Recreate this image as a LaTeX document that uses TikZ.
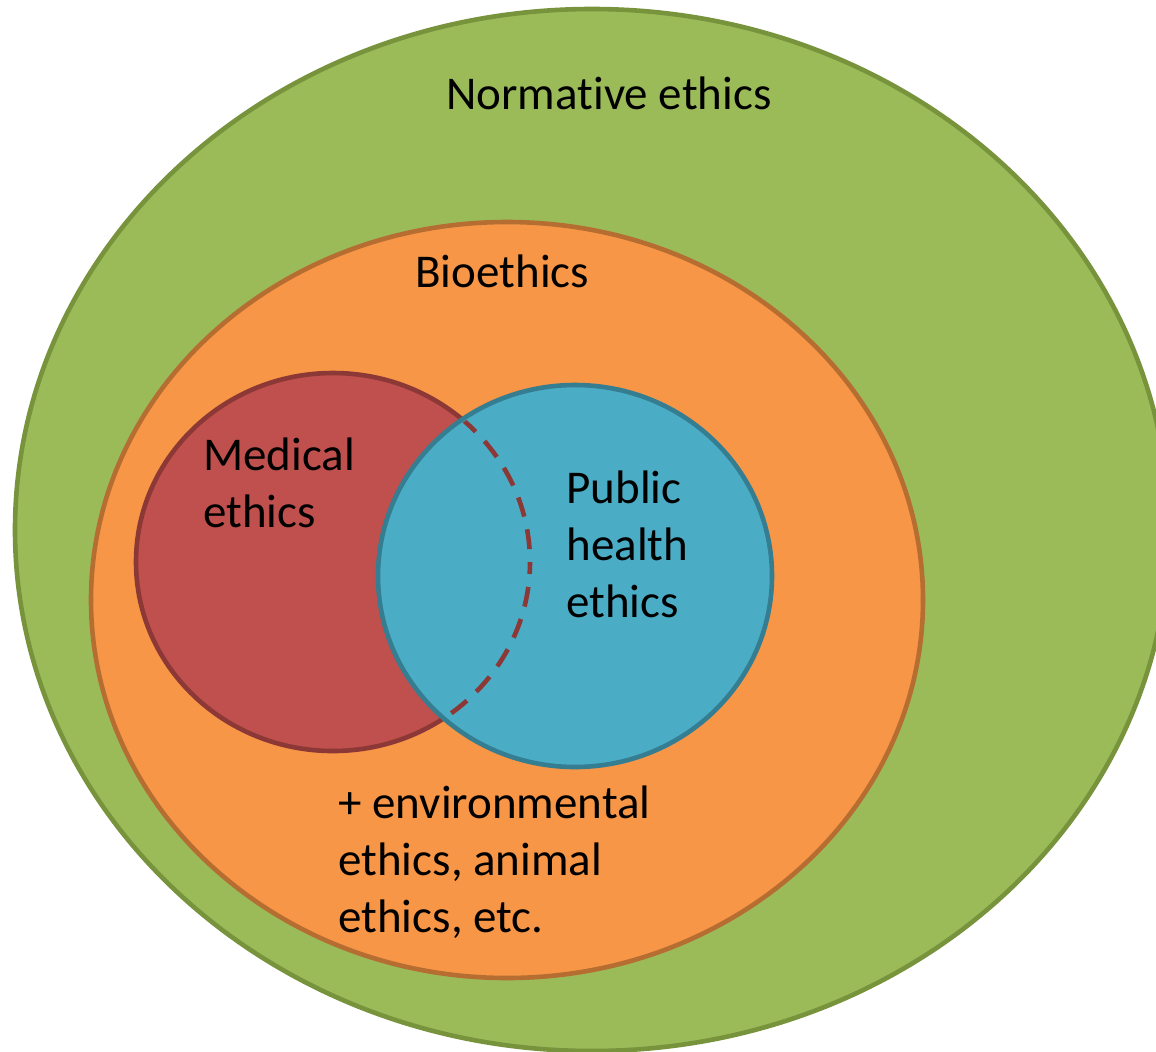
\documentclass[tikz,border=0pt]{standalone}
\usepackage{fontspec}
\setmainfont{Carlito}[Ligatures={NoCommon,NoRare}]
\definecolor{gfill}{HTML}{9BBB59}
\definecolor{gline}{HTML}{77933C}
\definecolor{ofill}{HTML}{F79646}
\definecolor{oline}{HTML}{B66D31}
\definecolor{rfill}{HTML}{C0504D}
\definecolor{rline}{HTML}{8C3836}
\definecolor{bfill}{HTML}{4BACC6}
\definecolor{bline}{HTML}{357D91}
\begin{document}
\begin{tikzpicture}[x=0.5pt,y=-0.5pt,
  border/.style={line width=2.3pt},
  lbl/.style={anchor=base west,inner sep=0pt,align=left,
    font=\fontsize{23.5pt}{28.5pt}\selectfont}]
\useasboundingbox (0,0) rectangle (1156,1051);
\clip (0,0) rectangle (1156,1051);
% outer sets
\draw[border,fill=gfill,draw=gline] (592,530) ellipse [x radius=577,y radius=521];
\draw[border,fill=ofill,draw=oline] (507,600) ellipse [x radius=416,y radius=378];
% medical ethics
\draw[border,fill=rfill,draw=rline] (333,562) ellipse [x radius=197,y radius=189];
% public health ethics
\draw[border,fill=bfill,draw=bline] (575,576) ellipse [x radius=197,y radius=191];
% hidden part of the medical ethics outline
\begin{scope}
  \clip (575,576) ellipse [x radius=194,y radius=188];
  \draw[border,draw=rline,dash pattern=on 10pt off 6.5pt,dash phase=4pt]
    (333,562) ellipse [x radius=197,y radius=189];
\end{scope}
% labels (base = baseline of the last line)
\node[lbl] (normative) at (446,109) {Normat\kern0pt ive ethics};
\node[lbl] (bio) at (415,287) {Bioethics};
\node[lbl] (medical) at (203,527) {Medical\\ethics};
\node[lbl] (public) at (566,617) {Public\\health\\ethics};
\node[lbl] (other) at (338,932) {+ environmental\\ethics, animal\\ethics, etc.};
\end{tikzpicture}
\end{document}
